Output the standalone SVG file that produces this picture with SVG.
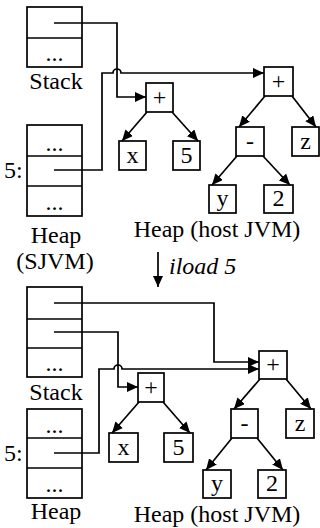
<svg xmlns="http://www.w3.org/2000/svg" width="320" height="528" viewBox="0 0 320 528">
<style>
.box{fill:#fff;stroke:#000;stroke-width:1.7}
.ln{fill:none;stroke:#000;stroke-width:1.7}
.t{font-family:'Liberation Serif','Times New Roman',Times,serif;font-size:24px;fill:#000}
.c{text-anchor:middle}
.it{font-style:italic}
</style>
<defs>
<marker id="ah" markerUnits="userSpaceOnUse" markerWidth="12" markerHeight="10" refX="11" refY="5" orient="auto">
<path d="M0,0 L11,5 L0,10 Z" fill="#000"/>
</marker>
</defs>
<rect width="320" height="528" fill="#fff"/>

<!-- TOP HALF -->
<g id="stack1">
<rect class="box" x="27" y="7" width="55" height="60"/>
<line class="ln" x1="27" y1="38" x2="82" y2="38"/>
<text class="t c" x="54.5" y="61">...</text>
<text class="t c" x="56" y="89">Stack</text>
</g>
<g id="heap1">
<rect class="box" x="27" y="125" width="55" height="91"/>
<line class="ln" x1="27" y1="156" x2="82" y2="156"/>
<line class="ln" x1="27" y1="186" x2="82" y2="186"/>
<text class="t c" x="54.5" y="151">...</text>
<text class="t c" x="54.5" y="210">...</text>
<text class="t" x="4" y="178">5:</text>
<text class="t c" x="56" y="243">Heap</text>
<text class="t c" x="55" y="269">(SJVM)</text>
</g>
<g id="t1plus"><rect class="box" x="146" y="83" width="27" height="29"/><text class="t c" x="159.5" y="105">+</text></g>
<g id="t1x"><rect class="box" x="119" y="141" width="27" height="29"/><text class="t c" x="132.5" y="163">x</text></g>
<g id="t1five"><rect class="box" x="173" y="141" width="27" height="29"/><text class="t c" x="186.5" y="163">5</text></g>
<g id="t1plus2"><rect class="box" x="264" y="67" width="29" height="29"/><text class="t c" x="278.5" y="89">+</text></g>
<g id="t1minus"><rect class="box" x="236" y="127" width="28" height="29"/><text class="t c" x="250" y="149">-</text></g>
<g id="t1z"><rect class="box" x="292" y="127" width="27" height="29"/><text class="t c" x="305.5" y="149">z</text></g>
<g id="t1y"><rect class="box" x="209" y="185" width="27" height="28"/><text class="t c" x="222.5" y="206">y</text></g>
<g id="t1two"><rect class="box" x="264" y="185" width="29" height="28"/><text class="t c" x="278.5" y="206">2</text></g>
<text class="t c" x="217" y="237">Heap (host JVM)</text>

<!-- transition -->
<g id="step">
<line class="ln" x1="158" y1="252" x2="158" y2="287" marker-end="url(#ah)"/>
<text class="t it" x="169" y="274">iload 5</text>
</g>

<!-- BOTTOM HALF -->
<g id="stack2">
<rect class="box" x="27" y="287" width="55" height="90"/>
<line class="ln" x1="27" y1="319" x2="82" y2="319"/>
<line class="ln" x1="27" y1="348" x2="82" y2="348"/>
<text class="t c" x="54.5" y="371">...</text>
<text class="t c" x="56" y="400">Stack</text>
</g>
<g id="heap2">
<rect class="box" x="27" y="409" width="55" height="89"/>
<line class="ln" x1="27" y1="438" x2="82" y2="438"/>
<line class="ln" x1="27" y1="468" x2="82" y2="468"/>
<text class="t c" x="54.5" y="433">...</text>
<text class="t c" x="54.5" y="492">...</text>
<text class="t" x="4" y="461">5:</text>
<text class="t c" x="56" y="519">Heap</text>
</g>
<g id="t2plus"><rect class="box" x="138" y="373" width="26" height="29"/><text class="t c" x="151" y="395">+</text></g>
<g id="t2x"><rect class="box" x="109" y="433" width="29" height="29"/><text class="t c" x="123.5" y="455">x</text></g>
<g id="t2five"><rect class="box" x="164" y="433" width="29" height="29"/><text class="t c" x="178.5" y="455">5</text></g>
<g id="t2plus2"><rect class="box" x="259" y="351" width="28" height="28"/><text class="t c" x="273" y="372">+</text></g>
<g id="t2minus"><rect class="box" x="231" y="409" width="27" height="29"/><text class="t c" x="244.5" y="431">-</text></g>
<g id="t2z"><rect class="box" x="286" y="409" width="28" height="29"/><text class="t c" x="300" y="431">z</text></g>
<g id="t2y"><rect class="box" x="203" y="470" width="28" height="28"/><text class="t c" x="217" y="491">y</text></g>
<g id="t2two"><rect class="box" x="258" y="470" width="28" height="28"/><text class="t c" x="272" y="491">2</text></g>
<text class="t c" x="217" y="522">Heap (host JVM)</text>

<g id="connectors">
<path class="ln" d="M54,23 H117 V97 H146" marker-end="url(#ah)"/>
<path class="ln" d="M54,170 H102 V73 H113 A4,4 0 0 1 121,73 H264" marker-end="url(#ah)"/>
<line class="ln" x1="147" y1="112" x2="122" y2="141" marker-end="url(#ah)"/>
<line class="ln" x1="172" y1="112" x2="198" y2="141" marker-end="url(#ah)"/>
<line class="ln" x1="265" y1="96" x2="239" y2="127" marker-end="url(#ah)"/>
<line class="ln" x1="292" y1="96" x2="316" y2="127" marker-end="url(#ah)"/>
<line class="ln" x1="237" y1="156" x2="212" y2="185" marker-end="url(#ah)"/>
<line class="ln" x1="263" y1="156" x2="290" y2="185" marker-end="url(#ah)"/>

<path class="ln" d="M54,303 H214 V362 H259" marker-end="url(#ah)"/>
<path class="ln" d="M54,332 H118 V387 H138" marker-end="url(#ah)"/>
<path class="ln" d="M54,453 H99 V369 H114 A4,4 0 0 1 122,369 H259" marker-end="url(#ah)"/>
<line class="ln" x1="139" y1="402" x2="112" y2="433" marker-end="url(#ah)"/>
<line class="ln" x1="163" y1="402" x2="190" y2="433" marker-end="url(#ah)"/>
<line class="ln" x1="260" y1="379" x2="234" y2="409" marker-end="url(#ah)"/>
<line class="ln" x1="286" y1="379" x2="311" y2="409" marker-end="url(#ah)"/>
<line class="ln" x1="232" y1="438" x2="206" y2="470" marker-end="url(#ah)"/>
<line class="ln" x1="257" y1="438" x2="283" y2="470" marker-end="url(#ah)"/>
</g>
</svg>
